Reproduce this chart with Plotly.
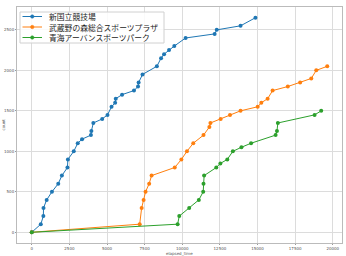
import plotly.graph_objects as go

names = ["新国立競技場", "武蔵野の森総合スポーツプラザ", "青海アーバンスポーツパーク"]

blue_x = [0, 600, 770, 780, 990, 1340, 1760, 2000, 2370, 2400, 2790, 3055, 3340, 3930, 3960, 4090,
          4680, 5030, 5300, 5540, 5580, 6000, 6790, 7060, 7100, 7360, 8310, 8590, 8790, 9120, 9470,
          10220, 12150, 12290, 13870, 14860]
blue_y = [0, 100, 200, 300, 400, 500, 600, 700, 800, 900, 1000, 1100, 1150, 1200, 1250, 1350,
          1400, 1450, 1550, 1600, 1650, 1700, 1750, 1800, 1850, 1950, 2050, 2150, 2200, 2250, 2300,
          2400, 2450, 2500, 2550, 2650]

orange_x = [0, 7170, 7300, 7430, 7560, 7800, 7960, 9500, 9940, 10310, 10730, 11410, 11800, 11870,
            12550, 13170, 13870, 15010, 15250, 15670, 16000, 17010, 17830, 18570, 18900, 19630]
orange_y = [0, 100, 300, 400, 500, 600, 700, 800, 900, 1000, 1100, 1200, 1300, 1350,
            1400, 1450, 1500, 1550, 1600, 1650, 1750, 1800, 1850, 1900, 2000, 2050]

green_x = [0, 9690, 9800, 10460, 11100, 11390, 11410, 11450, 12260, 12530, 12990, 13360, 13930,
           14570, 16200, 16290, 16350, 18790, 19230]
green_y = [0, 100, 200, 300, 400, 500, 600, 700, 800, 850, 900, 1000, 1050,
           1100, 1200, 1250, 1350, 1450, 1500]

x_ticks = [0, 2500, 5000, 7500, 10000, 12500, 15000, 17500, 20000]
y_ticks = [0, 500, 1000, 1500, 2000, 2500]

colors = ["#1f77b4", "#ff7f0e", "#2ca02c"]
series = [(blue_x, blue_y), (orange_x, orange_y), (green_x, green_y)]

W, H = 346, 256
ML, MR, MT, MB = 17, 4, 7, 13
PW, PH = W - ML - MR, H - MT - MB


def px(xp):
    return (xp - ML) / PW


def py(yp):
    return 1 - (yp - MT) / PH


fig = go.Figure()
for (xs, ys), name, c in zip(series, names, colors):
    fig.add_trace(go.Scatter(x=xs, y=ys, name=name, mode="lines+markers",
                             line=dict(color=c, width=1),
                             marker=dict(color=c, size=4),
                             showlegend=False))

# legend drawn in the upper-left corner (matplotlib style)
shapes = [dict(type="rect", xref="paper", yref="paper",
               x0=px(20), x1=px(164), y0=py(12), y1=py(43),
               line=dict(color="#d0d0d0", width=1), fillcolor="rgba(255,255,255,0.85)", layer="above")]
annotations = []
rows = [16.5, 27, 37.5]
for name, c, r in zip(names, colors, rows):
    shapes.append(dict(type="line", xref="paper", yref="paper",
                       x0=px(22.5), x1=px(42), y0=py(r), y1=py(r),
                       line=dict(color=c, width=1), layer="above"))
    shapes.append(dict(type="circle", xref="paper", yref="paper",
                       x0=px(30.5), x1=px(34), y0=py(r - 1.75), y1=py(r + 1.75),
                       line=dict(color=c, width=0.5), fillcolor=c, layer="above"))
    annotations.append(dict(text=name, xref="paper", yref="paper", x=px(47), y=py(r),
                            xanchor="left", yanchor="middle", showarrow=False,
                            font=dict(size=7.8, color="#222222", family="Noto Sans CJK JP")))

# axis titles
title_font = dict(size=4, color="#555555", family="DejaVu Sans")
annotations.append(dict(text="elapsed_time", xref="paper", yref="paper", x=0.5, y=0,
                        yshift=-(256.5 - (H - MB)), xanchor="center", yanchor="bottom",
                        showarrow=False, font=title_font, borderpad=0))
annotations.append(dict(text="count", xref="paper", yref="paper", x=px(2.5), y=0.5,
                        xanchor="center", yanchor="middle", showarrow=False, textangle=-90,
                        font=title_font))

axis_common = dict(showgrid=True, gridcolor="#dcdcdc", gridwidth=1, zeroline=False,
                   showline=True, linecolor="#bbbbbb", linewidth=1, mirror=True,
                   ticks="outside", ticklen=1, tickcolor="#999999", automargin=False,
                   tickfont=dict(size=4, color="#555555", family="DejaVu Sans"))

fig.update_layout(
    width=W, height=H,
    margin=dict(l=ML, r=MR, t=MT, b=MB),
    paper_bgcolor="white", plot_bgcolor="white",
    font=dict(family="Noto Sans CJK JP"),
    xaxis=dict(range=[-981, 20611], tickvals=x_ticks, ticktext=[str(v) for v in x_ticks],
               **axis_common),
    yaxis=dict(range=[-132.5, 2782.5], tickvals=y_ticks, ticktext=[str(v) for v in y_ticks],
               **axis_common),
    shapes=shapes,
    annotations=annotations,
    showlegend=False,
)

fig.write_html("out.html")
